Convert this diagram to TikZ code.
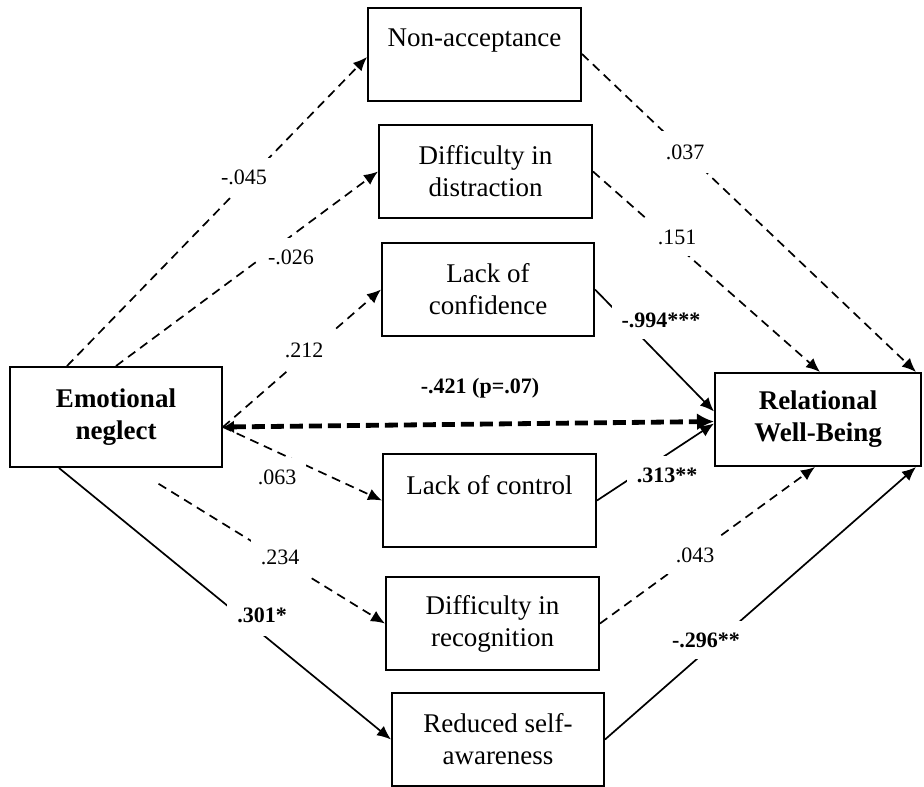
\documentclass[tikz,border=0pt]{standalone}
\usepackage{fontspec}
\setmainfont{Liberation Serif}
\usetikzlibrary{arrows.meta}
\begin{document}
\begin{tikzpicture}[x=1pt,y=-1pt,
  box/.style={draw, line width=2pt, minimum width=213pt, minimum height=93pt,
    inner sep=0pt, align=center, font=\fontsize{27}{32}\selectfont},
  boldbox/.style={box, font=\fontsize{27}{32}\selectfont\bfseries},
  coef/.style={fill=white, inner xsep=10pt, inner ysep=12pt,
    font=\fontsize{22}{26}\selectfont},
  coefb/.style={coef, font=\fontsize{22}{26}\selectfont\bfseries},
  link/.style={line width=1.7pt, -{Latex[length=14pt,width=12pt]}},
  nslink/.style={link, dash pattern=on 9pt off 6pt},
  direct/.style={line width=4.8pt, dash pattern=on 13pt off 6pt,
    {Latex[length=11pt,width=13pt]}-{Latex[length=17pt,width=17pt]}},
]
\useasboundingbox (0,0) rectangle (924,787);

% predictor, mediators and outcome
\node[boldbox, minimum width=212pt, minimum height=100pt] (en) at (116,417) {Emotional\\neglect};
\node[boldbox, minimum width=206pt] (rwb) at (818,419.5) {Relational\\Well-Being};
\node[box] (na)  at (474.5,54)    {Non-acceptance\\\mbox{}};
\node[box] (dd)  at (485.5,171.5) {Difficulty in\\distraction};
\node[box, minimum width=212pt] (lcf) at (488,289.5) {Lack of\\confidence};
\node[box] (lct) at (489.5,500.5) {Lack of control\\\mbox{}};
\node[box] (dr)  at (492.5,623.5) {Difficulty in\\recognition};
\node[box, minimum width=212pt] (rs) at (498,739.5) {Reduced self-\\awareness};

\coordinate (enr) at ([yshift=-10pt]en.east);

% a paths
\draw[nslink] ([xshift=58pt]en.north west) -- ([yshift=-3pt]na.west);
\draw[nslink] (en.north) -- (dd.west);
\draw[nslink] (enr) -- (lcf.west);
\draw[nslink] (enr) -- (lct.west);
\draw[nslink, shorten <=30pt] ([xshift=124pt]en.south west) -- (dr.west);
\draw[link] ([xshift=50pt]en.south west) -- (rs.west);

% direct effect
\draw[direct] (enr) -- ([yshift=-2pt]rwb.west);

% b paths
\draw[nslink] (na.east) -- ([xshift=-6pt]rwb.north east);
\draw[nslink] (dd.east) -- ([xshift=2pt]rwb.north);
\draw[link] (lcf.east) -- ([yshift=8pt]rwb.west);
\draw[link] (lct.east) -- ([yshift=-4pt]rwb.west);
\draw[nslink] (dr.east) -- ([xshift=-3pt]rwb.south);
\draw[link] (rs.east) -- ([xshift=-6pt]rwb.south east);

% coefficients
\node[coef]  (c1)  at (244,177) {-.045};
\node[coef]  (c2)  at (291,257) {-.026};
\node[coef]  (c3)  at (304,350) {.212};
\node[coef]  (c4)  at (277,477) {.063};
\node[coef]  (c5)  at (280,557) {.234};
\node[coefb, inner ysep=14pt] (c6) at (262,615) {.301*};
\node[coefb] (c7)  at (480,388) {-.421 (p=.07)};
\node[coef, inner ysep=14pt] (c8) at (685,152) {.037};
\node[coef]  (c9)  at (677,237) {.151};
\node[coefb] (c10) at (661,320) {-.994***};
\node[coefb] (c11) at (667,475) {.313**};
\node[coef, inner xsep=12pt] (c12) at (695,555) {.043};
\node[coefb] (c13) at (706,640) {-.296**};
\end{tikzpicture}
\end{document}
